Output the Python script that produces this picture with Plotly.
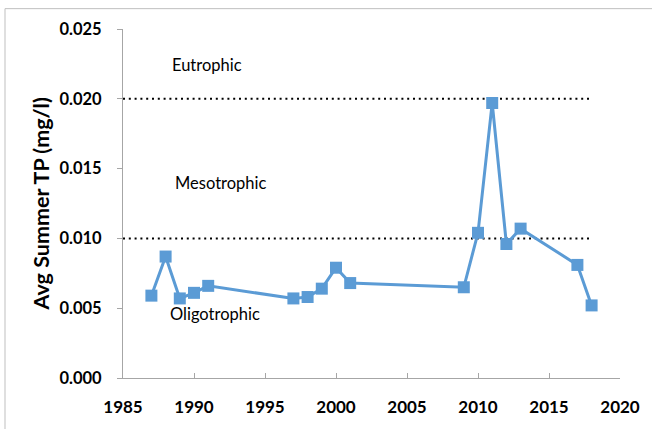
import plotly.graph_objects as go

years = [1987, 1988, 1989, 1990, 1991, 1997, 1998, 1999, 2000, 2001,
         2009, 2010, 2011, 2012, 2013, 2017, 2018]
avg_tp = [0.0059, 0.0087, 0.0057, 0.0061, 0.0066, 0.0057, 0.0058, 0.0064, 0.0079, 0.0068,
          0.0065, 0.0104, 0.0197, 0.0096, 0.0107, 0.0081, 0.0052]

threshold_x = [1985, 2018]
eutrophic_limit = [0.020, 0.020]
mesotrophic_limit = [0.010, 0.010]

zone_labels = ["Eutrophic", "Mesotrophic", "Oligotrophic"]
zone_label_x = [1990.9, 1991.9, 1991.5]
zone_label_y = [0.0224, 0.0140, 0.0046]

y_ticks = [0.0, 0.005, 0.010, 0.015, 0.020, 0.025]
y_tick_text = ["0.000", "0.005", "0.010", "0.015", "0.020", "0.025"]
x_ticks = [1985, 1990, 1995, 2000, 2005, 2010, 2015, 2020]

FONT = "Lato"
AXIS_GREY = "#a6a6a6"

fig = go.Figure()

for lim in (eutrophic_limit, mesotrophic_limit):
    fig.add_trace(go.Scatter(
        x=threshold_x, y=lim, mode="lines",
        line=dict(color="black", width=2, dash="2px,3.8px"),
        hoverinfo="skip", showlegend=False,
    ))

fig.add_trace(go.Scatter(
    x=years, y=avg_tp, mode="lines+markers",
    line=dict(color="#5b9bd5", width=3),
    marker=dict(symbol="square", size=12, color="#5b9bd5"),
    showlegend=False,
))

for txt, xx, yy in zip(zone_labels, zone_label_x, zone_label_y):
    fig.add_annotation(x=xx, y=yy, text=txt, showarrow=False,
                       font=dict(family=FONT, size=16.5, color="black"),
                       xanchor="center", yanchor="middle")

fig.add_annotation(xref="paper", yref="paper", x=-0.165, y=0.5,
                   text="<b>Avg Summer TP (mg/l)</b>", textangle=-90, showarrow=False,
                   font=dict(family=FONT, size=21.5, color="black"),
                   xanchor="center", yanchor="middle")

# outer chart frame (left and top edges visible; right/bottom lie outside the page)
fig.add_shape(type="rect", xref="paper", yref="paper",
              x0=-0.2374, x1=1.3, y0=-0.3, y1=1.0583,
              line=dict(color="#bfbfbf", width=1), fillcolor="rgba(0,0,0,0)",
              layer="above")

fig.update_layout(
    width=652, height=429,
    margin=dict(l=123, r=32, t=29, b=45.5),
    paper_bgcolor="white", plot_bgcolor="white",
    font=dict(family=FONT, color="black"),
)
fig.update_xaxes(
    range=[1985, 2020], tickvals=x_ticks, showgrid=False, zeroline=False,
    showline=True, linecolor=AXIS_GREY, linewidth=1,
    ticks="inside", ticklen=5, tickcolor=AXIS_GREY,
    tickfont=dict(family=FONT, size=17, color="black", weight="bold"),
    ticklabelstandoff=14,
)
fig.update_yaxes(
    range=[0, 0.025], tickvals=y_ticks, ticktext=y_tick_text, showgrid=False, zeroline=False,
    showline=True, linecolor=AXIS_GREY, linewidth=1,
    ticks="outside", ticklen=5, tickcolor=AXIS_GREY,
    tickfont=dict(family=FONT, size=16.5, color="black", weight="bold"),
    ticklabelstandoff=12,
)

fig.write_html("out.html", config={"displayModeBar": False},
               post_script="document.body.style.margin='0';")
